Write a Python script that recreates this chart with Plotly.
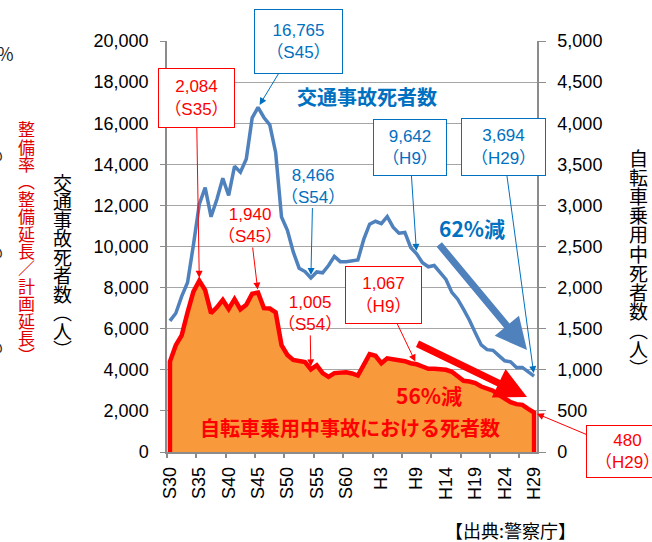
import plotly.graph_objects as go

# ---------------- data ----------------
years = list(range(1955, 2018))
total_deaths = [6379, 6751, 7575, 8248, 10079, 12055, 12865, 11445, 12301, 13318,
                12484, 13904, 13618, 14256, 16257, 16765, 16278, 15918, 14574, 11432,
                10792, 9734, 8945, 8783, 8466, 8760, 8719, 9073, 9520, 9262,
                9261, 9317, 9347, 10344, 11086, 11227, 11109, 11452, 10942, 10649,
                10684, 9943, 9642, 9214, 9012, 9073, 8757, 8396, 7768, 7436,
                6937, 6415, 5796, 5209, 4979, 4948, 4691, 4438, 4388, 4113,
                4117, 3904, 3694]
bike_deaths = [1100, 1300, 1420, 1700, 1950, 2084, 1970, 1690, 1760, 1850,
               1740, 1860, 1735, 1790, 1925, 1940, 1750, 1745, 1700, 1300,
               1180, 1120, 1105, 1095, 1005, 1055, 960, 915, 960, 970,
               970, 955, 930, 1060, 1190, 1170, 1080, 1140, 1130, 1115,
               1105, 1080, 1067, 1040, 1012, 1012, 1004, 1000, 976, 919,
               866, 858, 838, 797, 777, 745, 696, 655, 607, 582,
               574, 525, 480]
label_years = [1955, 1960, 1965, 1970, 1975, 1980, 1985, 1991, 1997, 2002, 2007, 2012, 2017]
label_text = ["S30", "S35", "S40", "S45", "S50", "S55", "S60", "H3", "H9", "H14", "H19", "H24", "H29"]
tick_years = [1954.5 + 5 * k for k in range(13)]

# ---------------- style ----------------
BLUE = "#4F81BD"
BLUE_TXT = "#0070C0"
RED = "#FF0000"
ORANGE = "#F8993C"
GRID = "#A6A6A6"
AXIS = "#8C8C8C"
NUM_FONT = "Liberation Sans, Noto Sans CJK JP, sans-serif"
JP_FONT = "Noto Sans CJK JP, Liberation Sans, sans-serif"

W, H = 652, 542
L, R, T, B = 167, 115, 41, 90
PW, PH = W - L - R, H - T - B


def px(xp):
    return (xp - L) / PW


def py(yp):
    return (H - B - yp) / PH


fig = go.Figure()

# orange filled area (bicycle deaths, right axis)
poly_x = [years[0]] + years + [years[-1]]
poly_y = [0] + bike_deaths + [0]
fig.add_trace(go.Scatter(x=poly_x, y=poly_y, yaxis="y2", fill="toself",
                         fillcolor=ORANGE, mode="lines", line=dict(width=0),
                         hoverinfo="skip", showlegend=False))
fig.add_trace(go.Scatter(x=poly_x, y=poly_y, yaxis="y2", mode="lines",
                         line=dict(color=RED, width=4.5), hoverinfo="skip",
                         showlegend=False))
# total deaths line (left axis)
fig.add_trace(go.Scatter(x=years, y=total_deaths, mode="lines",
                         line=dict(color=BLUE, width=3.5), hoverinfo="skip",
                         showlegend=False))
# dummy trace for the tick-mark axis
fig.add_trace(go.Scatter(x=[years[0]], y=[None], xaxis="x2", mode="lines",
                         hoverinfo="skip", showlegend=False))

ann = []


def box_label(text, x, y, yref, ax, ay, color, border, w, h):
    d = dict(text=text, x=x, y=y, xref="x", yref=yref, ax=ax, ay=ay,
             axref="pixel", ayref="pixel", showarrow=True, arrowhead=2,
             arrowsize=1.4, arrowwidth=1, arrowcolor=color, standoff=3,
             font=dict(size=17, color=color, family=NUM_FONT), align="center")
    if border:
        d.update(bordercolor=color, borderwidth=1, bgcolor="white",
                 borderpad=2, width=w, height=h)
    ann.append(d)


box_label("16,765<br>（S45）", 1970, 16765, "y", 40, -66, BLUE_TXT, True, 83, 59)
box_label("2,084<br>（S35）", 1960, 2084, "y2", -3, -183, RED, True, 71, 54)
box_label("1,940<br>（S45）", 1970, 1940, "y2", -8, -67, RED, False, 0, 0)
box_label("8,466<br>（S54）", 1979, 8466, "y", 2, -92, BLUE_TXT, False, 0, 0)
box_label("1,005<br>（S54）", 1979, 1005, "y2", -1, -56, RED, False, 0, 0)
box_label("9,642<br>（H9）", 1997, 9642, "y", -7, -106, BLUE_TXT, True, 68, 51)
box_label("3,694<br>（H29）", 2017, 3694, "y", -31, -229, BLUE_TXT, True, 79, 52)
box_label("1,067<br>（H9）", 1997, 1067, "y2", -33, -69, RED, True, 71, 52)
box_label("480<br>（H29）", 2017, 480, "y2", 93, 39, RED, True, 77, 47)

# thick trend arrows
ann.append(dict(text="", x=px(527), y=py(350), xref="paper", yref="paper",
                ax=-89, ay=-107, showarrow=True, arrowhead=2, arrowsize=0.9,
                arrowwidth=7, arrowcolor=BLUE))
ann.append(dict(text="", x=px(527), y=py(397), xref="paper", yref="paper",
                ax=-111, ay=-54, showarrow=True, arrowhead=2, arrowsize=0.9,
                arrowwidth=7, arrowcolor=RED))


def text(t, xp, yp, size, color, bold=False, xanchor="center"):
    ann.append(dict(text=f"<b>{t}</b>" if bold else t, x=px(xp), y=py(yp),
                    xref="paper", yref="paper", showarrow=False,
                    xanchor=xanchor, yanchor="middle",
                    font=dict(size=size, color=color, family=JP_FONT)))


text("交通事故死者数", 367, 97, 20, BLUE_TXT, True)
text("62%減", 472, 228, 21, BLUE_TXT, True)
text("56%減", 429, 395, 21, RED, True)
text("自転車乗用中事故における死者数", 350, 427, 20, RED, True)
text("【出典:警察庁】", 510, 530, 18, "black")

for yy, xr in [(53, 16), (153, 5), (250, 5), (345, 5)]:
    text("%", xr, yy, 18, "#222222", False, "right")


def vtext(chars, xc, ytop, pitch, size, color):
    for k, ch in enumerate(chars):
        text(ch, xc, ytop + pitch * (k + 0.5), size, color)


vtext("交通事故死者数︵人︶", 62, 173, 18.5, 19, "black")
vtext("自転車乗用中死者数︵人︶", 638, 148, 19.1, 19, "black")
vtext("整備率︵整備延長／計画延長︶", 26, 120, 17.4, 17, "#E00000")

fig.update_layout(
    width=W, height=H,
    margin=dict(l=L, r=R, t=T, b=B, pad=0, autoexpand=False),
    paper_bgcolor="white", plot_bgcolor="white",
    showlegend=False,
    annotations=ann,
    xaxis=dict(range=[1954.5, 2017.5], tickvals=label_years, ticktext=label_text,
               tickangle=-90, ticks="", showgrid=False, zeroline=False,
               showline=True, linecolor=AXIS, linewidth=1.5, automargin=False,
               tickfont=dict(size=18, color="black", family=NUM_FONT),
               ticklabelstandoff=6),
    xaxis2=dict(range=[1954.5, 2017.5], overlaying="x", anchor="y",
                side="bottom", tickvals=tick_years, ticks="outside", ticklen=5,
                tickcolor=AXIS, tickwidth=1.5, showticklabels=False,
                showgrid=False, zeroline=False, showline=False, automargin=False),
    yaxis=dict(range=[0, 20000], dtick=2000, tickformat=",d", showgrid=True,
               gridcolor=GRID, gridwidth=1, zeroline=False, showline=True,
               linecolor=AXIS, linewidth=1.5, ticks="outside", ticklen=5,
               tickcolor=AXIS, automargin=False,
               tickfont=dict(size=18, color="black", family=NUM_FONT),
               ticklabelstandoff=8),
    yaxis2=dict(range=[0, 5000], dtick=500, tickformat=",d", overlaying="y",
                side="right", showgrid=False, zeroline=False, showline=True,
                linecolor=AXIS, linewidth=1.5, ticks="outside", ticklen=7,
                tickcolor=AXIS, automargin=False,
                tickfont=dict(size=18, color="black", family=NUM_FONT),
                ticklabelstandoff=8),
)

fig.write_html("out.html", config={"displayModeBar": False},
               post_script="document.body.style.margin='0';")
